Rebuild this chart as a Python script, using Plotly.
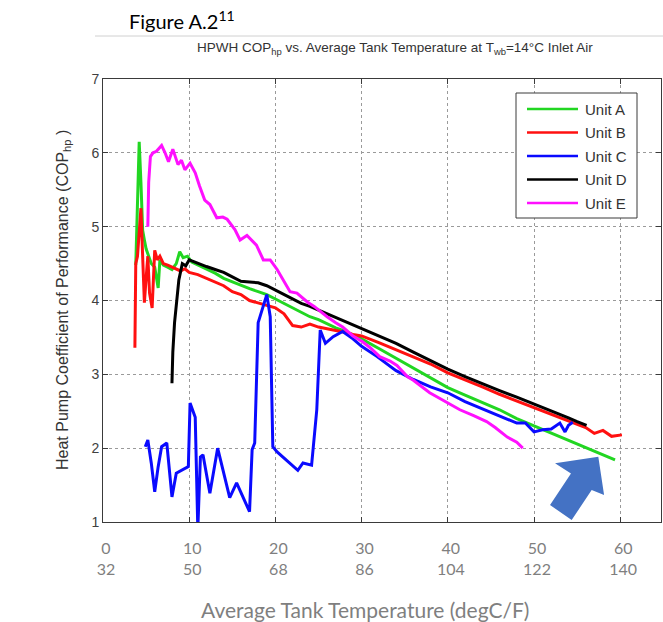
import plotly.graph_objects as go

# ---------------- data ----------------
unit_a_x = [3.8, 4.0, 4.2, 4.4, 4.6, 4.8, 5.0, 5.3, 5.6, 6.0, 6.4, 6.6, 7.0, 7.5, 8.0, 8.5, 8.9, 9.3, 9.8,
            10.3, 11, 12, 13, 14, 15, 16, 17, 18, 19, 20, 21, 22, 23, 24, 25, 26, 27, 28, 29, 30, 32, 34,
            36, 38, 40, 42, 44, 46, 48, 50, 52, 54, 56, 58, 59.4]
unit_a_y = [4.48, 5.4, 6.15, 5.6, 4.95, 4.82, 4.7, 4.6, 4.5, 4.45, 4.17, 4.55, 4.48, 4.45, 4.42, 4.5, 4.66,
            4.58, 4.6, 4.52, 4.48, 4.42, 4.37, 4.3, 4.25, 4.2, 4.16, 4.12, 4.08, 4.02, 3.96, 3.9, 3.83, 3.78,
            3.74, 3.68, 3.63, 3.59, 3.54, 3.48, 3.35, 3.22, 3.08, 2.95, 2.82, 2.72, 2.62, 2.52, 2.4, 2.3, 2.2,
            2.1, 2.0, 1.9, 1.84]

unit_b_x = [3.7, 3.8, 4.0, 4.2, 4.4, 4.6, 4.8, 5.0, 5.2, 5.4, 5.7, 6.0, 6.3, 6.6, 7.0, 7.5, 8.0, 8.5, 9.0,
            9.5, 10, 11, 12, 13, 14, 15, 16, 17, 18, 19, 20, 21, 22, 23, 24, 25, 26, 27, 28, 29, 30, 32, 34,
            36, 38, 40, 42, 44, 46, 48, 50, 52, 54, 55, 56, 57, 58, 59, 60.2]
unit_b_y = [3.36, 4.5, 4.6, 4.9, 5.25, 4.6, 3.97, 4.3, 4.6, 4.1, 3.9, 4.68, 4.55, 4.6, 4.5, 4.48, 4.45,
            4.42, 4.4, 4.43, 4.38, 4.35, 4.3, 4.25, 4.2, 4.12, 4.08, 4.0, 3.97, 3.93, 3.9, 3.82, 3.66, 3.64,
            3.68, 3.64, 3.62, 3.6, 3.57, 3.54, 3.52, 3.43, 3.33, 3.24, 3.14, 3.02, 2.93, 2.83, 2.73, 2.64,
            2.54, 2.45, 2.36, 2.32, 2.28, 2.2, 2.24, 2.16, 2.18]

unit_c_x = [4.9, 5.2, 5.6, 6.0, 6.4, 6.8, 7.4, 7.7, 8.0, 8.5, 9.9, 10.1, 10.4, 10.7, 11.0, 11.3, 11.6, 12.4,
            13.3, 14.0, 14.7, 15.5, 17.0, 17.3, 17.6, 18.0, 18.6, 19.0, 19.4, 19.7, 20.2, 20.9, 22.6, 23.2,
            24.2, 24.8, 25.2, 25.8, 26.7, 27.8, 29, 30, 31.8, 34, 36, 38, 40, 42, 44, 46, 48, 49, 50, 51,
            52, 53, 53.6, 54.0, 54.5]
unit_c_y = [2.02, 2.11, 1.8, 1.41, 1.75, 2.02, 2.07, 1.7, 1.34, 1.66, 1.75, 2.61, 2.5, 2.42, 0.9, 1.88, 1.91,
            1.39, 2.0, 1.65, 1.33, 1.53, 1.14, 1.98, 2.07, 3.7, 3.92, 4.08, 3.78, 2.02, 1.95, 1.88, 1.7, 1.8,
            1.77, 2.52, 3.6, 3.42, 3.51, 3.58, 3.48, 3.38, 3.24, 3.05, 2.93, 2.83, 2.75, 2.63, 2.53, 2.44,
            2.34, 2.34, 2.22, 2.25, 2.26, 2.34, 2.22, 2.31, 2.35]

unit_d_x = [8.0, 8.1, 8.3, 8.5, 8.8, 9.2, 9.6, 10, 11, 12, 13, 14, 15, 16, 17, 18, 19, 20, 21, 22, 23, 24,
            25, 26, 27, 28, 29, 30, 32, 34, 36, 38, 40, 42, 44, 46, 48, 50, 52, 54, 55, 56.1]
unit_d_y = [2.88, 3.3, 3.7, 3.95, 4.28, 4.5, 4.47, 4.55, 4.5, 4.46, 4.42, 4.38, 4.32, 4.26, 4.25, 4.24, 4.2,
            4.14, 4.08, 4.02, 3.96, 3.92, 3.87, 3.82, 3.77, 3.72, 3.67, 3.63, 3.52, 3.42, 3.3, 3.18, 3.07,
            2.97, 2.87, 2.78, 2.69, 2.6, 2.5, 2.41, 2.36, 2.31]

unit_e_x = [5.2, 5.3, 5.5, 5.8, 6.2, 6.8, 7.2, 7.6, 8.1, 8.7, 9.1, 9.5, 10.1, 10.7, 11.2, 11.8, 12.4, 13.2,
            13.9, 14.4, 15.3, 15.9, 16.7, 17.8, 18.6, 19.4, 20.2, 20.9, 21.7, 22.5, 23.7, 24.5, 26, 27, 27.8,
            29, 30, 31, 32.1, 33.3, 34.1, 35.3, 36, 37.9, 39, 40, 41.4, 43, 44.5, 45.5, 46.9, 48, 48.7]
unit_e_y = [5.0, 5.6, 5.95, 6.0, 6.02, 6.1, 6.0, 5.88, 6.05, 5.84, 5.9, 5.77, 5.86, 5.73, 5.55, 5.36, 5.3,
            5.12, 5.13, 5.1, 4.96, 4.82, 4.88, 4.75, 4.55, 4.55, 4.42, 4.28, 4.12, 4.1, 3.98, 3.92, 3.78,
            3.7, 3.64, 3.52, 3.45, 3.36, 3.24, 3.18, 3.12, 2.97, 2.92, 2.75, 2.68, 2.61, 2.52, 2.44, 2.36,
            2.28, 2.15, 2.08, 2.0]

series_names = ["Unit A", "Unit B", "Unit C", "Unit D", "Unit E"]
series_colors = ["#22d622", "#ff1010", "#0a0aff", "#000000", "#ff10ff"]

x_tick_c = [0, 10, 20, 30, 40, 50, 60]
x_tick_f = [32, 50, 68, 86, 104, 122, 140]
y_ticks = [1, 2, 3, 4, 5, 6, 7]

# arrow polygon (annotation shape, in data units)
arrow_x = [57.46, 58.13, 56.69, 54.37, 51.86, 54.29, 52.44]
arrow_y = [1.884, 1.366, 1.433, 1.027, 1.230, 1.656, 1.795]

# ---------------- helpers: reference pixel -> paper coords ----------------
PX_L, PX_R, PX_T, PX_B = 103, 661, 79, 522


def px(xp):
    return (xp - PX_L) / (PX_R - PX_L)


def py(yp):
    return (PX_B - yp) / (PX_B - PX_T)


# ---------------- figure ----------------
fig = go.Figure()
xs = [unit_a_x, unit_b_x, unit_c_x, unit_d_x, unit_e_x]
ys = [unit_a_y, unit_b_y, unit_c_y, unit_d_y, unit_e_y]
for name, color, x, y in zip(series_names, series_colors, xs, ys):
    fig.add_trace(go.Scatter(x=x, y=y, mode="lines", name=name, showlegend=False,
                             line=dict(color=color, width=3)))

arrow_path = "M " + " L ".join(f"{a},{b}" for a, b in zip(arrow_x, arrow_y)) + " Z"
fig.add_shape(type="path", xref="x", yref="y", path=arrow_path,
              fillcolor="#4472C4", line=dict(width=0), layer="above")

# thin separator line under the figure caption
fig.add_shape(type="line", xref="paper", yref="paper", x0=px(95), x1=px(670),
              y0=py(36), y1=py(36), line=dict(color="#d0d0d0", width=1))

axis_color = "#3a3a3a"

# legend box drawn by hand (MATLAB style)
fig.add_shape(type="rect", xref="paper", yref="paper", x0=px(516), x1=px(637), y0=py(218), y1=py(93),
              fillcolor="white", line=dict(color=axis_color, width=1), layer="above")
legend_rows = [109, 132.5, 156, 179.5, 203]
annotations = []
for name, color, yr in zip(series_names, series_colors, legend_rows):
    fig.add_shape(type="line", xref="paper", yref="paper", x0=px(527), x1=px(578), y0=py(yr), y1=py(yr),
                  line=dict(color=color, width=2.5), layer="above")
    annotations.append(dict(text=name, xref="paper", yref="paper", x=px(583), y=py(yr),
                            xanchor="left", yanchor="middle", showarrow=False,
                            font=dict(family="Arial", size=15, color="#333333")))

annotations += [
    dict(text="Figure A.2<sup>11</sup>", xref="paper", yref="paper",
         x=px(127), y=py(20), xanchor="left", yanchor="middle",
         showarrow=False, font=dict(family="Lato", size=20, color="#000000")),
    dict(text="HPWH COP<sub>hp</sub> vs. Average Tank Temperature at T<sub>wb</sub>=14°C Inlet Air",
         xref="paper", yref="paper", x=px(395), y=py(49),
         xanchor="center", yanchor="middle", showarrow=False,
         font=dict(family="Arial", size=13.5, color="#333333")),
    dict(text="Heat Pump Coefficient of Performance (COP<sub>hp</sub> )",
         xref="paper", yref="paper", x=px(63), y=py(300),
         xanchor="center", yanchor="middle", textangle=-90, showarrow=False,
         font=dict(family="Arial", size=16, color="#333333")),
    dict(text="Average Tank Temperature (degC/F)", xref="paper", yref="paper",
         x=px(365), y=py(609), xanchor="center", yanchor="middle",
         showarrow=False, font=dict(family="Lato", size=21, color="#7f7f7f")),
]

fig.update_layout(
    template="none",
    width=663, height=622, autosize=False,
    margin=dict(l=PX_L, r=663 - PX_R, t=PX_T, b=622 - PX_B, autoexpand=False),
    paper_bgcolor="white", plot_bgcolor="white",
    showlegend=False,
    xaxis=dict(range=[0, 558 / 8.62], tickvals=x_tick_c,
               ticktext=[f"{c}<br>{f}" for c, f in zip(x_tick_c, x_tick_f)],
               tickfont=dict(family="Lato", size=16, color="#7f7f7f"),
               ticks="inside", ticklen=5, tickcolor=axis_color,
               showline=True, linecolor=axis_color, linewidth=1, mirror="ticks",
               showgrid=True, gridcolor="#9a9a9a", griddash="dot", gridwidth=1,
               zeroline=False, ticklabelstandoff=12, ticklabelshift=3, automargin=False),
    yaxis=dict(range=[1, 7], tickvals=y_ticks,
               tickfont=dict(family="Arial", size=14, color="#404040"),
               ticks="inside", ticklen=5, tickcolor=axis_color,
               showline=True, linecolor=axis_color, linewidth=1, mirror="ticks",
               showgrid=True, gridcolor="#9a9a9a", griddash="dot", gridwidth=1,
               zeroline=False, automargin=False),
    annotations=annotations,
)

fig.write_html("out.html", config={"displayModeBar": False},
               post_script="document.body.style.margin='0';document.body.style.overflow='hidden';")
